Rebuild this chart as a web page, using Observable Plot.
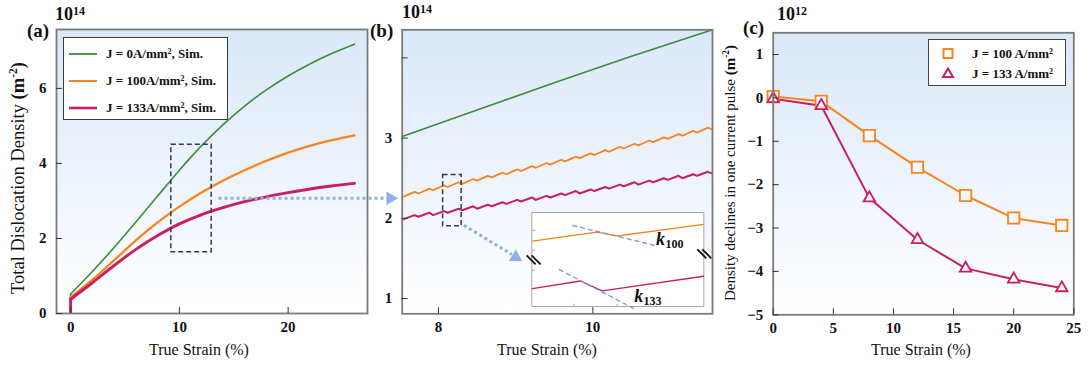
<!DOCTYPE html>
<html><head><meta charset="utf-8">
<script src="https://cdn.jsdelivr.net/npm/d3@7"></script>
<script src="https://cdn.jsdelivr.net/npm/@observablehq/plot@0.6"></script>
<style>
body{margin:0;background:#fff;}
#root{position:relative;width:1090px;height:369px;font-family:"Liberation Serif","Times New Roman",serif;color:#111;overflow:hidden;}
.abs{position:absolute;white-space:nowrap;line-height:1;}
.ctr{transform:translate(-50%,-50%);}
.rot{transform:translate(-50%,-50%) rotate(-90deg);}
.panel{position:absolute;top:0;}
sup{font-size:0.62em;vertical-align:0.55em;line-height:0;}
.leg{position:absolute;box-sizing:border-box;background:#fff;}
.leg span{position:absolute;white-space:nowrap;line-height:1;font-weight:bold;}
</style>
</head><body>
<div id="root"></div>
<script>
// ---------- data ----------
// Panel (a): total dislocation density (x 1e14 m^-2) vs true strain (%)
const strainA  = [0, 2, 4, 6, 8, 10, 12, 14, 16, 18, 20, 22, 24, 26.1];
const rhoA_J0   = [0.52, 1.12, 1.76, 2.44, 3.13, 3.82, 4.46, 5.03, 5.53, 5.96, 6.33, 6.65, 6.93, 7.18];
const rhoA_J100 = [0.43, 0.90, 1.42, 1.95, 2.43, 2.85, 3.22, 3.54, 3.82, 4.07, 4.29, 4.47, 4.62, 4.75];
const rhoA_J133 = [0.38, 0.82, 1.28, 1.71, 2.08, 2.39, 2.63, 2.82, 2.98, 3.11, 3.22, 3.32, 3.40, 3.47];
const xTicksA = [0, 10, 20];
const yTicksA = [0, 2, 4, 6];

// Panel (b): zoomed view
const strainB_J0 = [7.53, 8.5, 9.5, 10.5, 11.55];
const rhoB_J0    = [3.02, 3.35, 3.69, 4.02, 4.35];
const strainB_pulse = [7.55, 7.69, 7.74, 7.88, 7.93, 8.07, 8.12, 8.26, 8.31, 8.45, 8.50, 8.64, 8.69, 8.83, 8.88, 9.02, 9.07, 9.21, 9.26, 9.40, 9.45, 9.59, 9.64, 9.78, 9.83, 9.97, 10.02, 10.16, 10.21, 10.35, 10.40, 10.54, 10.59, 10.73, 10.78, 10.92, 10.97, 11.11, 11.16, 11.30, 11.35, 11.49, 11.54];
const rhoB_J100 = [2.27, 2.33, 2.31, 2.37, 2.35, 2.41, 2.39, 2.45, 2.43, 2.49, 2.47, 2.53, 2.51, 2.57, 2.55, 2.61, 2.59, 2.65, 2.63, 2.69, 2.67, 2.73, 2.71, 2.77, 2.75, 2.81, 2.79, 2.85, 2.83, 2.89, 2.87, 2.93, 2.91, 2.97, 2.95, 3.01, 2.99, 3.05, 3.03, 3.09, 3.07, 3.13, 3.11];
const rhoB_J133 = [1.99, 2.04, 2.02, 2.07, 2.04, 2.09, 2.07, 2.12, 2.10, 2.15, 2.12, 2.17, 2.15, 2.20, 2.18, 2.23, 2.21, 2.26, 2.23, 2.28, 2.26, 2.31, 2.29, 2.34, 2.31, 2.36, 2.34, 2.39, 2.37, 2.42, 2.40, 2.45, 2.42, 2.47, 2.45, 2.50, 2.48, 2.53, 2.50, 2.55, 2.53, 2.58, 2.56];
const xTicksB = [8, 10];
const yTicksB = [1, 2, 3, 4];
// inset (single pulse close-up), in panel (b) coordinates
const insetX100 = [9.216, 10.056, 10.315, 11.435];
const insetY100 = [1.717, 1.829, 1.780, 1.925];
const insetX133 = [9.216, 9.840, 10.121, 11.435];
const insetY133 = [1.125, 1.219, 1.095, 1.278];
const slopeK100 = {x1: 9.733, y1: 1.913, x2: 10.832, y2: 1.655};
const slopeK133 = {x1: 9.560, y1: 1.365, x2: 10.573, y2: 0.854};

// Panel (c): density decline in one current pulse (x 1e12 m^-2)
const strainC = [0, 4, 8, 12, 16, 20, 24];
const declJ100 = [0.03, -0.08, -0.87, -1.60, -2.25, -2.77, -2.94];
const declJ133 = [-0.02, -0.18, -2.31, -3.27, -3.93, -4.18, -4.38];
const xTicksC = [0, 5, 10, 15, 20, 25];
const yTicksC = [-5, -4, -3, -2, -1, 0, 1];

// ---------- style ----------
const GREEN = "#3b8d3e", ORANGE = "#f7841f", MAGENTA = "#c91f60";
const NAVY = "#2c3b58", ARROW = "#8fb0e1", FRAME = "#7b7b7b";
const SERIF = '"Liberation Serif","Times New Roman",serif';
const intFmt = d3.format("d");

function gradDefs(id) {
  return () => {
    const defs = d3.create("svg:defs");
    const g = defs.append("linearGradient").attr("id", id)
      .attr("x1", 0).attr("y1", 0).attr("x2", 0).attr("y2", 1);
    g.append("stop").attr("offset", "0").attr("stop-color", "#dbe8f8");
    g.append("stop").attr("offset", "1").attr("stop-color", "#ffffff");
    return defs.node();
  };
}
const zip = (xs, ys) => xs.map((x, i) => ({x, y: ys[i]}));
const baseStyle = {fontFamily: SERIF, fontSize: "15px", fontWeight: "bold", color: "#111",
  background: "transparent", overflow: "visible"};
function axes(xt, yt, yfmt = intFmt) {
  return [
    Plot.axisX({ticks: xt, tickSize: -6, tickPadding: 14, label: null, stroke: "#333",
      tickFormat: intFmt, fontFamily: SERIF, fontSize: 15, fontWeight: "bold"}),
    Plot.axisY({ticks: yt, tickSize: -6, tickPadding: 16, label: null, stroke: "#333",
      tickFormat: yfmt, fontFamily: SERIF, fontSize: 15, fontWeight: "bold"})
  ];
}

const root = document.getElementById("root");

// ---------- panel (a) ----------
const seriesA = [
  {c: GREEN, w: 1.6, v: rhoA_J0},
  {c: ORANGE, w: 2.3, v: rhoA_J100},
  {c: MAGENTA, w: 2.9, v: rhoA_J133}
];
const boxA = [{x1: 9.26, x2: 12.97, y1: 1.63, y2: 4.5}];
const arrowA = [{x1: 13.6, y1: 3.07, x2: 29.0, y2: 3.07}];
const headA = [{x: 29.4, y: 3.07}];
const plotA = Plot.plot({
  width: 370, height: 369, marginLeft: 56, marginRight: 3, marginTop: 29, marginBottom: 56,
  x: {domain: [-1.3, 27.3]}, y: {domain: [0, 7.57]},
  style: baseStyle,
  marks: [
    gradDefs("gA"),
    Plot.frame({fill: "url(#gA)", stroke: null}),
    ...seriesA.map(s => Plot.ruleX([0], {y1: 0, y2: s.v[0], stroke: s.c, strokeWidth: s.w})),
    ...seriesA.map(s => Plot.line(zip(strainA, s.v), {x: "x", y: "y", stroke: s.c, strokeWidth: s.w, curve: "catmull-rom"})),
    Plot.rect(boxA, {x1: "x1", x2: "x2", y1: "y1", y2: "y2", fill: "none", stroke: NAVY, strokeWidth: 1.5, strokeDasharray: "5,3"}),
    Plot.link(arrowA, {x1: "x1", y1: "y1", x2: "x2", y2: "y2", stroke: ARROW, strokeWidth: 3, strokeDasharray: "3,3"}),
    Plot.dot(headA, {x: "x", y: "y", symbol: "triangle", rotate: 90, r: 5, fill: ARROW, stroke: null}),
    Plot.frame({stroke: FRAME, strokeWidth: 1.8}),
    ...axes(xTicksA, yTicksA)
  ]
});
plotA.classList.add("panel"); plotA.style.left = "0px";
root.appendChild(plotA);

// ---------- panel (b) ----------
const boxB = [{x1: 8.06, x2: 8.30, y1: 1.90, y2: 2.54}];
const arrowB = [{x1: 8.33, y1: 1.913, x2: 8.95, y2: 1.55}];
const headB = [{x: 9.0, y: 1.515}];
const insetFrame = [{x1: 9.216, x2: 11.444, y1: 0.895, y2: 2.066}];
const insetYTicks = [1.85, 1.60, 1.35];
const insetXTicks = [9.754, 10.315];
const breakMarks = [
  {x1: 9.142, y1: 1.539, x2: 9.258, y2: 1.427}, {x1: 9.206, y1: 1.539, x2: 9.323, y2: 1.427},
  {x1: 11.353, y1: 1.614, x2: 11.470, y2: 1.502}, {x1: 11.418, y1: 1.614, x2: 11.534, y2: 1.502}
];
const kLabels = [{x: 10.875, y: 1.738, t: "k"}, {x: 10.594, y: 1.029, t: "k"}];
const kSubs = [{x: 10.94, y: 1.682, t: "100"}, {x: 10.655, y: 0.966, t: "133"}];
const plotB = Plot.plot({
  width: 345, height: 369, marginLeft: 31.7, marginRight: 3, marginTop: 29.3, marginBottom: 55.7,
  x: {domain: [7.53, 11.55]}, y: {domain: [0.81, 4.35]},
  style: baseStyle,
  marks: [
    gradDefs("gB"),
    Plot.frame({fill: "url(#gB)", stroke: null}),
    Plot.line(zip(strainB_J0, rhoB_J0), {x: "x", y: "y", stroke: GREEN, strokeWidth: 1.6}),
    Plot.line(zip(strainB_pulse, rhoB_J100), {x: "x", y: "y", stroke: ORANGE, strokeWidth: 1.8}),
    Plot.line(zip(strainB_pulse, rhoB_J133), {x: "x", y: "y", stroke: MAGENTA, strokeWidth: 2}),
    Plot.rect(boxB, {x1: "x1", x2: "x2", y1: "y1", y2: "y2", fill: "none", stroke: NAVY, strokeWidth: 1.5, strokeDasharray: "5,3"}),
    Plot.link(arrowB, {x1: "x1", y1: "y1", x2: "x2", y2: "y2", stroke: ARROW, strokeWidth: 3, strokeDasharray: "3,3"}),
    Plot.dot(headB, {x: "x", y: "y", symbol: "triangle", rotate: 122, r: 5, fill: ARROW, stroke: null}),
    Plot.rect(insetFrame, {x1: "x1", x2: "x2", y1: "y1", y2: "y2", fill: "#fff", stroke: "#a8a8a8", strokeWidth: 1}),
    Plot.ruleY(insetYTicks, {x1: 9.216, x2: 9.255, stroke: "#a8a8a8"}),
    Plot.ruleX(insetXTicks, {y1: 0.895, y2: 0.93, stroke: "#a8a8a8"}),
    Plot.line(zip(insetX100, insetY100), {x: "x", y: "y", stroke: ORANGE, strokeWidth: 1.3}),
    Plot.line(zip(insetX133, insetY133), {x: "x", y: "y", stroke: MAGENTA, strokeWidth: 1.3}),
    Plot.link([slopeK100, slopeK133], {x1: "x1", y1: "y1", x2: "x2", y2: "y2", stroke: "#6e9ad8", strokeWidth: 1.3, strokeDasharray: "5,3"}),
    Plot.link(breakMarks, {x1: "x1", y1: "y1", x2: "x2", y2: "y2", stroke: "#111", strokeWidth: 1.8}),
    Plot.text(kLabels, {x: "x", y: "y", text: "t", fontSize: 18, fontStyle: "italic", fontWeight: "bold", fontFamily: SERIF, fill: "#111"}),
    Plot.text(kSubs, {x: "x", y: "y", text: "t", fontSize: 12, fontWeight: "bold", fontFamily: SERIF, textAnchor: "start", fill: "#111"}),
    Plot.frame({stroke: FRAME, strokeWidth: 1.8}),
    ...axes(xTicksB, yTicksB, d => d === 4 ? "" : intFmt(d))
  ]
});
plotB.classList.add("panel"); plotB.style.left = "370px";
root.appendChild(plotB);

// ---------- panel (c) ----------
const plotC = Plot.plot({
  width: 375, height: 369, marginLeft: 57.7, marginRight: 16.7, marginTop: 32.3, marginBottom: 54.7,
  x: {domain: [0, 25]}, y: {domain: [-5, 1.5]},
  style: baseStyle,
  marks: [
    gradDefs("gC"),
    Plot.frame({fill: "url(#gC)", stroke: null}),
    Plot.line(zip(strainC, declJ100), {x: "x", y: "y", stroke: ORANGE, strokeWidth: 2}),
    Plot.line(zip(strainC, declJ133), {x: "x", y: "y", stroke: MAGENTA, strokeWidth: 2}),
    Plot.dot(zip(strainC, declJ100), {x: "x", y: "y", symbol: "square", r: 6.4, stroke: ORANGE, strokeWidth: 1.8, fill: "#f4f8fd"}),
    Plot.dot(zip(strainC, declJ133), {x: "x", y: "y", symbol: "triangle", r: 4.3, stroke: MAGENTA, strokeWidth: 1.8, fill: "#f4f8fd"}),
    Plot.frame({stroke: FRAME, strokeWidth: 1.8}),
    ...axes(xTicksC, yTicksC)
  ]
});
plotC.classList.add("panel"); plotC.style.left = "715px";
root.appendChild(plotC);

// ---------- text & legends ----------
const html = `
<div class="abs" style="left:27px;top:21px;font-size:19px;font-weight:bold">(a)</div>
<div class="abs" style="left:55px;top:5px;font-size:18px;font-weight:bold">10<span style="font-size:12px;vertical-align:5px">14</span></div>
<div class="abs" style="left:370px;top:21px;font-size:19px;font-weight:bold">(b)</div>
<div class="abs" style="left:402px;top:3px;font-size:18px;font-weight:bold">10<span style="font-size:12px;vertical-align:5px">14</span></div>
<div class="abs" style="left:743px;top:18px;font-size:19px;font-weight:bold">(c)</div>
<div class="abs" style="left:777px;top:5px;font-size:18px;font-weight:bold">10<span style="font-size:12px;vertical-align:5px">12</span></div>

<div class="abs rot" style="left:18px;top:178px;font-size:18.5px">Total Dislocation Density <b>(m<sup>-2</sup>)</b></div>
<div class="abs rot" style="left:730px;top:173px;font-size:15px">Density declines in one current pulse <b>(m<sup>-2</sup>)</b></div>
<div class="abs ctr" style="left:199px;top:350px;font-size:16px">True Strain (%)</div>
<div class="abs ctr" style="left:547px;top:350px;font-size:16px">True Strain (%)</div>
<div class="abs ctr" style="left:921px;top:350px;font-size:16px">True Strain (%)</div>

<div class="leg" style="left:63px;top:37px;width:165px;height:83px;border:1px solid #3a3a3a;">
  <svg width="165" height="83" style="position:absolute;left:0;top:0">
    <line x1="5" x2="33" y1="16" y2="16" stroke="${GREEN}" stroke-width="1.8"/>
    <line x1="5" x2="33" y1="43" y2="43" stroke="${ORANGE}" stroke-width="2"/>
    <line x1="5" x2="33" y1="70" y2="70" stroke="${MAGENTA}" stroke-width="2.6"/>
  </svg>
  <span style="left:42px;top:9px;font-size:13px">J = 0A/mm<sup>2</sup>, Sim.</span>
  <span style="left:42px;top:36px;font-size:13px">J = 100A/mm<sup>2</sup>, Sim.</span>
  <span style="left:42px;top:63px;font-size:13px">J = 133A/mm<sup>2</sup>, Sim.</span>
</div>

<div class="leg" style="left:928px;top:39px;width:138px;height:47px;border:1.3px solid #444;">
  <svg width="138" height="47" style="position:absolute;left:0;top:0">
    <rect x="14.5" y="9" width="9" height="9" fill="none" stroke="${ORANGE}" stroke-width="2"/>
    <path d="M19,28.5 L24,37 L14,37 Z" fill="none" stroke="${MAGENTA}" stroke-width="2"/>
  </svg>
  <span style="left:43px;top:7px;font-size:13px">J = 100 A/mm<sup>2</sup></span>
  <span style="left:43px;top:27px;font-size:13px">J = 133 A/mm<sup>2</sup></span>
</div>
`;
root.insertAdjacentHTML("beforeend", html);
</script>
</body></html>
